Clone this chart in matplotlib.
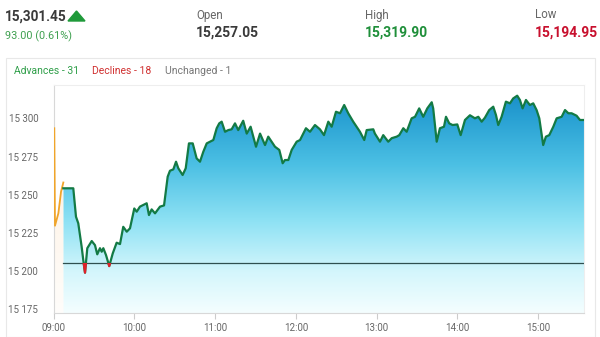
import numpy as np
import matplotlib
matplotlib.use("Agg")
import matplotlib.pyplot as plt
from matplotlib.colors import LinearSegmentedColormap
from matplotlib.patches import Rectangle, Polygon

plt.rcParams['font.family'] = ['Roboto', 'DejaVu Sans']

# ---------------- data ----------------
last_value = "15,301.45"
change_text = "93.00 (0.61%)"
open_value = "15,257.05"
high_value = "15,319.90"
low_value = "15,194.95"
breadth_labels = ["Advances - 31", "Declines - 18", "Unchanged - 1"]
prev_close_ref = 15205.0

# pre-open session (minutes after 09:00)
pre_minutes = [0.6, 1.1, 3.6, 5.6, 7.3]
pre_values = [15293.5, 15229.7, 15237.8, 15252.0, 15258.0]

# regular session (minutes after 09:00)
minutes = [7.3, 14.7, 16.7, 18.4, 20.9, 22.1, 23.4, 25.1, 28.4, 30.8, 32.5, 34.5,
           35.8, 37.0, 39.0, 41.4, 44.0, 46.9, 49.4, 51.8, 54.4, 56.8, 60.0, 61.8,
           64.2, 66.7, 69.2, 70.9, 72.9, 75.4, 79.1, 82.1, 84.8, 86.5, 89.0, 91.0,
           92.7, 95.9, 98.2, 100.6, 103.4, 106.3, 108.8, 111.2, 113.8, 116.2, 118.7,
           121.2, 123.1, 124.9, 127.4, 129.8, 132.3, 134.8, 137.2, 140.9, 143.5,
           146.4, 150.4, 153.4, 157.1, 159.5, 164.5, 167.7, 170.2, 171.9, 174.4,
           176.9, 180.6, 183.1, 187.5, 190.5, 194.2, 197.9, 200.9, 204.1, 206.6,
           209.8, 212.8, 215.9, 218.9, 222.6, 227.6, 230.8, 232.6, 237.5, 238.7,
           242.5, 244.9, 248.6, 251.2, 254.9, 256.8, 259.8, 262.3, 266.0, 268.5,
           271.6, 274.6, 277.6, 280.9, 282.0, 284.6, 287.0, 290.0, 291.5, 293.9,
           296.4, 299.9, 302.4, 305.6, 309.3, 313.0, 315.5, 318.0, 320.4, 323.6,
           326.6, 328.6, 330.3, 332.8, 336.0, 339.0, 341.4, 344.4, 346.4, 348.4,
           350.9, 353.8, 356.3, 358.8, 360.8, 362.5, 363.7, 365.7, 368.2, 371.2,
           373.7, 377.4, 379.9, 382.4, 384.8, 388.5, 391.0, 394.0]
values = [15254.2, 15254.2, 15235.6, 15231.3, 15216.0, 15207.3, 15199.0, 15215.0,
          15219.7, 15217.0, 15211.0, 15215.0, 15212.7, 15215.0, 15210.5, 15203.3,
          15211.6, 15218.6, 15217.7, 15229.0, 15225.8, 15228.0, 15241.0, 15238.9,
          15242.2, 15243.3, 15244.4, 15236.7, 15240.4, 15237.8, 15242.2, 15243.0,
          15261.8, 15265.7, 15266.6, 15271.6, 15267.3, 15262.9, 15267.3, 15283.6,
          15283.6, 15273.8, 15271.6, 15278.0, 15283.6, 15284.7, 15285.8, 15293.5,
          15296.7, 15297.8, 15291.2, 15292.3, 15292.8, 15296.7, 15292.3, 15298.4,
          15290.0, 15294.5, 15281.4, 15290.0, 15282.5, 15288.0, 15281.4, 15279.3,
          15270.6, 15272.7, 15272.7, 15279.3, 15284.7, 15285.8, 15293.5, 15291.2,
          15295.6, 15292.8, 15289.0, 15297.8, 15294.5, 15304.3, 15303.3, 15308.7,
          15303.3, 15297.8, 15291.2, 15285.8, 15292.3, 15292.8, 15290.0, 15284.7,
          15289.0, 15284.7, 15287.0, 15288.0, 15289.0, 15293.5, 15291.2, 15300.0,
          15301.0, 15306.5, 15301.0, 15306.5, 15310.5, 15306.5, 15284.7, 15293.5,
          15294.5, 15301.0, 15296.7, 15295.6, 15296.0, 15289.0, 15298.9, 15302.0,
          15300.0, 15301.0, 15297.8, 15300.4, 15305.4, 15307.6, 15302.2, 15295.6,
          15301.0, 15310.9, 15309.8, 15313.0, 15314.8, 15312.0, 15306.5, 15312.0,
          15308.7, 15309.8, 15305.4, 15300.0, 15290.0, 15282.5, 15288.0, 15289.0,
          15294.5, 15300.0, 15301.0, 15305.4, 15303.3, 15303.3, 15301.7, 15298.9,
          15298.9]

y_ticks = [15175, 15200, 15225, 15250, 15275, 15300]
y_tick_labels = ["15 175", "15 200", "15 225", "15 250", "15 275", "15 300"]
x_ticks = [0, 60, 120, 180, 240, 300, 360]
x_tick_labels = ["09:00", "10:00", "11:00", "12:00", "13:00", "14:00", "15:00"]

# ---------------- figure ----------------
fig = plt.figure(figsize=(6.0, 3.37), dpi=100)
fig.patch.set_facecolor("white")

W, H = 600.0, 337.0
def fx(px):
    return px / W
def fy(py):
    return 1 - py / H

# header texts
green_txt = "#1f8f3a"
red_txt = "#c8102e"
fig.text(fx(5), fy(17), last_value, fontsize=9.8, fontweight="bold", color="#3a3a3a",
         va="center", ha="left")
tri = Polygon([[fx(68), fy(21)], [fx(85), fy(21)], [fx(76.5), fy(11)]],
              closed=True, transform=fig.transFigure, color="#1f9a3a")
fig.patches.append(tri)
fig.text(fx(5), fy(36), change_text, fontsize=7.8, color="#3fa050", va="center", ha="left")

fig.text(fx(196), fy(15), "Open", fontsize=8.3, color="#666666", va="center", ha="left")
fig.text(fx(196), fy(33), open_value, fontsize=10, fontweight="bold", color="#3a3a3a",
         va="center", ha="left")
fig.text(fx(365), fy(15), "High", fontsize=8.3, color="#666666", va="center", ha="left")
fig.text(fx(365), fy(33), high_value, fontsize=10, fontweight="bold", color=green_txt,
         va="center", ha="left")
fig.text(fx(535), fy(15), "Low", fontsize=8.3, color="#666666", va="center", ha="left")
fig.text(fx(535), fy(33), low_value, fontsize=10, fontweight="bold", color=red_txt,
         va="center", ha="left")

# card border
card = Rectangle((fx(6), fy(337)), fx(595) - fx(6), fy(58) - fy(337),
                 transform=fig.transFigure, fill=False, edgecolor="#e8e8e8", linewidth=0.8)
fig.patches.append(card)

fig.text(fx(14), fy(71), breadth_labels[0], fontsize=7.5, color="#2e9e48", va="center", ha="left")
fig.text(fx(92), fy(71), breadth_labels[1], fontsize=7.5, color="#d03030", va="center", ha="left")
fig.text(fx(165), fy(71), breadth_labels[2], fontsize=7.5, color="#777777", va="center", ha="left")

# axes
ax = fig.add_axes([fx(53.5), fy(313), fx(584) - fx(53.5), fy(85) - fy(313)])
ax.set_xlim(0, 394)
ax.set_ylim(15172.6, 15321.8)

t = np.array(minutes)
v = np.array(values)
tp = np.array(pre_minutes)
vp = np.array(pre_values)
ymin, ymax = ax.get_ylim()

# blue gradient fill clipped to area under the line
cmap = LinearSegmentedColormap.from_list("blue", [
    (0.0, "#f4feff"), (0.18, "#d4f6fc"), (0.40, "#8fe2f4"),
    (0.65, "#4cc0e4"), (0.85, "#2aa2d4"), (1.0, "#1488c4")])
grad = np.linspace(0, 1, 256).reshape(-1, 1)
img = ax.imshow(grad, aspect="auto", cmap=cmap, origin="lower",
                extent=[t[0], t[-1], ymin, ymax], zorder=1)
verts = [(t[0], ymin)] + list(zip(t, v)) + [(t[-1], ymin), (t[0], ymin)]
poly = Polygon(verts, closed=True, transform=ax.transData, facecolor="none", edgecolor="none")
ax.add_patch(poly)
img.set_clip_path(poly)

# orange gradient fill for pre-open
cmap_o = LinearSegmentedColormap.from_list("org", [(0.0, "#fffdfa"), (1.0, "#fde6cc")])
img2 = ax.imshow(grad, aspect="auto", cmap=cmap_o, origin="lower",
                 extent=[tp[0] - 0.6, tp[-1], ymin, ymax], zorder=1, alpha=0.8)
verts2 = [(tp[0] - 0.6, ymin), (tp[0] - 0.6, vp[0])] + list(zip(tp, vp)) + [(tp[-1], ymin)]
poly2 = Polygon(verts2, closed=True, transform=ax.transData, facecolor="none", edgecolor="none")
ax.add_patch(poly2)
img2.set_clip_path(poly2)

# previous close reference line
ax.plot([t[0], ax.get_xlim()[1]], [prev_close_ref, prev_close_ref], color="#2f4f4f",
        linewidth=0.9, zorder=3)

# price lines
ax.plot(tp, vp, color="#f0a52a", linewidth=1.3, zorder=4, solid_joinstyle="round")
ax.plot(t, v, color="#137a45", linewidth=1.6, zorder=4, solid_joinstyle="round")
red_line, = ax.plot(t, v, color="#e0202a", linewidth=1.6, zorder=5, solid_joinstyle="round")
clip_rect = Rectangle((0, ymin - 50), 400, prev_close_ref - (ymin - 50),
                      transform=ax.transData, facecolor="none", edgecolor="none")
ax.add_patch(clip_rect)
red_line.set_clip_path(clip_rect)

# styling
ax.set_yticks(y_ticks)
ax.set_yticklabels(y_tick_labels)
ax.set_xticks(x_ticks)
ax.set_xticklabels(x_tick_labels)
ax.tick_params(axis="y", length=0, pad=11, labelsize=7, labelcolor="#666666")
ax.tick_params(axis="x", length=4, width=0.8, color="#cccccc", pad=3,
               labelsize=7, labelcolor="#666666")
for s in ["top", "right"]:
    ax.spines[s].set_color("#eeeeee")
    ax.spines[s].set_linewidth(0.8)
for s in ["left", "bottom"]:
    ax.spines[s].set_color("#d8d8d8")
    ax.spines[s].set_linewidth(0.8)
ax.set_facecolor("white")

fig.savefig("out.png", dpi=100, facecolor="white")
